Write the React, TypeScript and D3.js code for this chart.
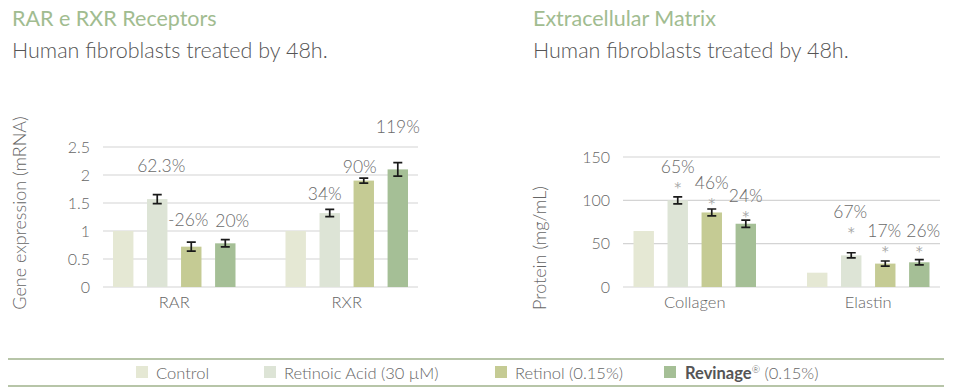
import React from 'react';
import * as d3 from 'd3';

const seriesNames = ["Control", "Retinoic Acid (30 µM)", "Retinol (0.15%)", "Revinage"];
const seriesColors = ["#e5e8d4", "#dde4d6", "#c5cb94", "#a5bf96"];

const geneGroups = ["RAR", "RXR"];
const rarValues = [1, 1.57, 0.72, 0.78];
const rarErrors = [0, 0.08, 0.08, 0.065];
const rarLabels = ["", "62.3%", "-26%", "20%"];
const rxrValues = [1, 1.32, 1.9, 2.1];
const rxrErrors = [0, 0.065, 0.045, 0.12];
const rxrLabels = ["", "34%", "90%", "119%"];
const geneTicks = [0, 0.5, 1, 1.5, 2, 2.5];

const proteinGroups = ["Collagen", "Elastin"];
const collagenValues = [64.6, 100, 86, 73];
const collagenErrors = [0, 4, 4, 4.2];
const collagenLabels = ["", "65%", "46%", "24%"];
const elastinValues = [16.5, 36.5, 27, 28.5];
const elastinErrors = [0, 3, 3, 3];
const elastinLabels = ["", "67%", "17%", "26%"];
const proteinTicks = [0, 50, 100, 150];

// label placement (pixels above the error bar, horizontal nudge), hand tuned like the source
const geneLift = [[0, 23, 16, 13], [0, 9, 5, 30]];
const geneNudge = [[0, 4, -3, 7], [0, -5, -4, 0]];
const proteinLift = [[0, 24, 20, 18], [0, 35, 24, 23]];
const proteinNudge = [[0, 0, 0, 0], [0, -1, -1, 4]];

const font = "Lato, 'Open Sans', sans-serif";

type Panel = {
	left: number;
	right: number;
	top: number;
	bottom: number;
	max: number;
	ticks: number[];
	groups: string[];
	values: number[][];
	errors: number[][];
	labels: string[][];
	lift: number[][];
	nudge: number[][];
	stars: boolean;
	yTitle: string;
	yTitleX: number;
	yTitleY: number;
};

const BarPanel = ({ p }: { p: Panel }) => {
	const y = d3.scaleLinear().domain([0, p.max]).range([p.bottom, p.top]);
	const x0 = d3.scaleBand().domain(p.groups).range([p.left - 15, p.right + 15]);
	const half = 61.25;
	const x1 = d3.scaleBand<number>()
		.domain(d3.range(seriesNames.length))
		.range([x0.bandwidth() / 2 - half, x0.bandwidth() / 2 + half])
		.paddingInner(0.4);

	return (
		<g>
			{p.ticks.map(t => (
				<g key={t}>
					<line x1={p.left} x2={p.right} y1={y(t)} y2={y(t)} stroke="#d4d4d4" strokeWidth={1.2} />
					<text x={p.left - 13} y={y(t)} dy="0.35em" textAnchor="end" fontSize={16} fill="#666" fontWeight={300}>
						{t}
					</text>
				</g>
			))}
			<text transform={`translate(${p.yTitleX},${p.yTitleY})rotate(-90)`} textAnchor="middle"
				fontSize={18} fill="#666" fontWeight={300}>
				{p.yTitle}
			</text>
			{p.groups.map((g, gi) => (
				<g key={g} transform={`translate(${x0(g)},0)`}>
					{p.values[gi].map((v, si) => {
						const bx = x1(si)!;
						const cx = bx + x1.bandwidth() / 2;
						const err = p.errors[gi][si];
						const topY = y(v + err);
						const labelY = topY - p.lift[gi][si];
						return (
							<g key={si}>
								<rect x={bx} y={y(v)} width={x1.bandwidth()} height={p.bottom - y(v)} fill={seriesColors[si]} />
								{err > 0 && (
									<path d={`M${cx - 4.5},${y(v + err)}H${cx + 4.5}M${cx},${y(v + err)}V${y(v - err)}M${cx - 4.5},${y(v - err)}H${cx + 4.5}`}
										stroke="#1a1a1a" strokeWidth={1.7} fill="none" />
								)}
								{p.labels[gi][si] && (
									<text x={cx + p.nudge[gi][si]} y={labelY} textAnchor="middle" fontSize={17.5} fill="#6a6a6a" fontWeight={300}>
										{p.labels[gi][si]}
									</text>
								)}
								{p.stars && p.labels[gi][si] && (
									<text x={cx} y={labelY + 14} textAnchor="middle" fontSize={14} fill="#a8a8a8"
										fontFamily="'DejaVu Sans', sans-serif" dominantBaseline="central">*</text>
								)}
							</g>
						);
					})}
					<text x={x0.bandwidth() / 2} y={p.bottom + 21} textAnchor="middle" fontSize={16.5} fill="#666" fontWeight={300}>
						{g}
					</text>
				</g>
			))}
		</g>
	);
};

const App = () => {
	const gene: Panel = {
		left: 103, right: 418, top: 147, bottom: 287, max: 2.5,
		ticks: geneTicks, groups: geneGroups,
		values: [rarValues, rxrValues], errors: [rarErrors, rxrErrors], labels: [rarLabels, rxrLabels],
		lift: geneLift, nudge: geneNudge, stars: false,
		yTitle: "Gene expression (mRNA)", yTitleX: 26, yTitleY: 213
	};
	const protein: Panel = {
		left: 623, right: 940, top: 157, bottom: 287, max: 150,
		ticks: proteinTicks, groups: proteinGroups,
		values: [collagenValues, elastinValues], errors: [collagenErrors, elastinErrors], labels: [collagenLabels, elastinLabels],
		lift: proteinLift, nudge: proteinNudge, stars: true,
		yTitle: "Protein (mg/mL)", yTitleX: 546, yTitleY: 248
	};

	const legendX = [136, 264, 495, 664];

	return (
		<svg width={955} height={391} style={{ position: "absolute", left: 0, top: 0, background: "#fff" }} fontFamily={font}>
			<text x={12} y={26} fontSize={21.5} fill="#a1bc90">RAR e RXR Receptors</text>
			<text x={12} y={58} fontSize={21.5} fill="#555" fontWeight={300}>Human fibroblasts treated by 48h.</text>
			<text x={533} y={26} fontSize={21.5} fill="#a1bc90">Extracellular Matrix</text>
			<text x={533} y={58} fontSize={21.5} fill="#555" fontWeight={300}>Human fibroblasts treated by 48h.</text>

			<BarPanel p={gene} />
			<BarPanel p={protein} />

			<line x1={8} x2={944} y1={359} y2={359} stroke="#b7c5a8" strokeWidth={2} />
			<line x1={8} x2={944} y1={386} y2={386} stroke="#b7c5a8" strokeWidth={2} />
			{seriesNames.map((name, i) => (
				<g key={name} transform={`translate(${legendX[i]},366)`}>
					<rect width={12} height={12} fill={seriesColors[i]} />
					<text x={i === 3 ? 21 : 20} y={13} fontSize={16.5} fill="#666" fontWeight={300}>
						{i === 3 ? (
							<>
								<tspan fontWeight={700} fill="#555">{name}</tspan>
								<tspan fontSize={10} dy={-6} fill="#555">®</tspan>
								<tspan dy={6}> (0.15%)</tspan>
							</>
						) : name}
					</text>
				</g>
			))}
		</svg>
	);
};

export default App;
